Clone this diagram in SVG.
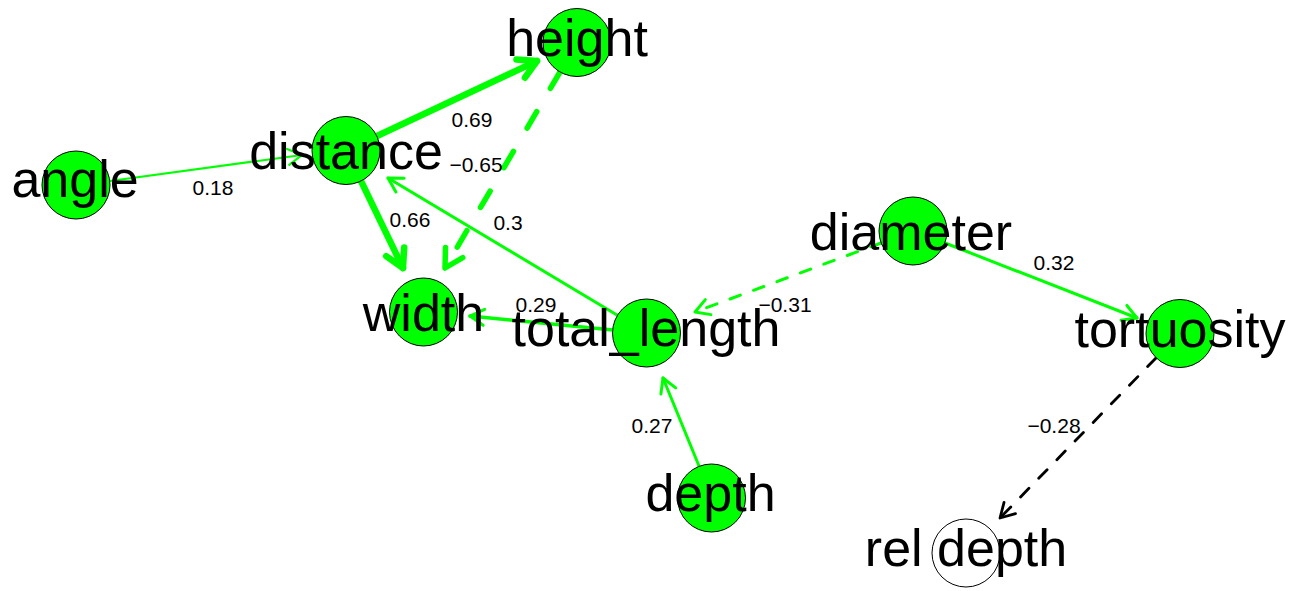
<svg xmlns="http://www.w3.org/2000/svg" width="1304" height="591" viewBox="0 0 1304 591">
<style>
.node{fill:#00ff00;stroke:#000;stroke-width:1}
.white{fill:#fff}
.nl{font-family:"Liberation Sans",Arial,sans-serif;font-size:52px;fill:#000;text-anchor:middle}
.el{font-family:"Liberation Sans",Arial,sans-serif;font-size:21px;fill:#000;text-anchor:middle}
.e{fill:none;stroke:#00ff00;stroke-linecap:round;stroke-linejoin:round}
.k{stroke:#000}
</style>
<defs>
<marker id="aG6" markerUnits="userSpaceOnUse" markerWidth="60" markerHeight="60" refX="0" refY="0" orient="auto" overflow="visible">
<path d="M-18,-10 L0,0 L-18,10" fill="none" stroke="#00ff00" stroke-width="6.5" stroke-linecap="round" stroke-linejoin="round"/>
</marker>
<marker id="aG5" markerUnits="userSpaceOnUse" markerWidth="60" markerHeight="60" refX="0" refY="0" orient="auto" overflow="visible">
<path d="M-18,-10 L0,0 L-18,10" fill="none" stroke="#00ff00" stroke-width="5.5" stroke-linecap="round" stroke-linejoin="round"/>
</marker>
<marker id="aG3" markerUnits="userSpaceOnUse" markerWidth="40" markerHeight="40" refX="0" refY="0" orient="auto" overflow="visible">
<path d="M-14,-8 L0,0 L-14,8" fill="none" stroke="#00ff00" stroke-width="3" stroke-linecap="round" stroke-linejoin="round"/>
</marker>
<marker id="aG2" markerUnits="userSpaceOnUse" markerWidth="40" markerHeight="40" refX="0" refY="0" orient="auto" overflow="visible">
<path d="M-14,-8 L0,0 L-14,8" fill="none" stroke="#00ff00" stroke-width="2.2" stroke-linecap="round" stroke-linejoin="round"/>
</marker>
<marker id="aK3" markerUnits="userSpaceOnUse" markerWidth="40" markerHeight="40" refX="0" refY="0" orient="auto" overflow="visible">
<path d="M-14,-8 L0,0 L-14,8" fill="none" stroke="#000" stroke-width="2.8" stroke-linecap="round" stroke-linejoin="round"/>
</marker>
</defs>
<g id="connectors">
<line class="e" x1="377" y1="136" x2="537" y2="61" stroke-width="6.5" marker-end="url(#aG6)"/>
<line class="e" x1="560" y1="72" x2="445" y2="268" stroke-width="5.5" stroke-dasharray="19 27" marker-end="url(#aG5)"/>
<line class="e" x1="110" y1="181" x2="302" y2="155" stroke-width="2.2" marker-end="url(#aG2)"/>
<line class="e" x1="361" y1="181" x2="403" y2="268" stroke-width="6.5" marker-end="url(#aG6)"/>
<line class="e" x1="617" y1="315" x2="388" y2="178" stroke-width="3" marker-end="url(#aG3)"/>
<line class="e" x1="613" y1="330" x2="470" y2="316" stroke-width="3.5" marker-end="url(#aG3)"/>
<line class="e" x1="881" y1="243" x2="695" y2="312" stroke-width="3" stroke-dasharray="11 14" marker-end="url(#aG3)"/>
<line class="e" x1="945" y1="243" x2="1137" y2="318" stroke-width="3" marker-end="url(#aG3)"/>
<line class="e" x1="699" y1="466" x2="663" y2="378" stroke-width="3" marker-end="url(#aG3)"/>
<line class="e k" x1="1156" y1="358" x2="1000" y2="518" stroke-width="2.8" stroke-dasharray="12 14" marker-end="url(#aK3)"/>
<text class="el" x="472" y="127">0.69</text>
<text class="el" x="476" y="172">−0.65</text>
<text class="el" x="213" y="194.5">0.18</text>
<text class="el" x="410" y="227">0.66</text>
<text class="el" x="508" y="230">0.3</text>
<text class="el" x="536" y="312">0.29</text>
<text class="el" x="785" y="312">−0.31</text>
<text class="el" x="1054" y="270">0.32</text>
<text class="el" x="652" y="432.5">0.27</text>
<text class="el" x="1054" y="433">−0.28</text>
</g>
<g id="node-height"><circle class="node" cx="577" cy="42.5" r="34"/><text class="nl" x="577" y="56">height</text></g>
<g id="node-distance"><circle class="node" cx="346" cy="150.5" r="34"/><text class="nl" x="346" y="169">distance</text></g>
<g id="node-angle"><circle class="node" cx="76" cy="185" r="34"/><text class="nl" x="75" y="197">angle</text></g>
<g id="node-width"><circle class="node" cx="423.5" cy="312" r="34"/><text class="nl" x="423.5" y="330.5">width</text></g>
<g id="node-total_length"><circle class="node" cx="646.5" cy="333" r="34"/><text class="nl" x="646" y="346">total_length</text></g>
<g id="node-diameter"><circle class="node" cx="913" cy="231" r="34"/><text class="nl" x="911" y="249.5">diameter</text></g>
<g id="node-tortuosity"><circle class="node" cx="1180" cy="333.5" r="34"/><text class="nl" x="1180" y="347">tortuosity</text></g>
<g id="node-depth"><circle class="node" cx="711.5" cy="498" r="34"/><text class="nl" x="710.5" y="511">depth</text></g>
<g id="node-rel_depth"><circle class="node white" cx="966" cy="553" r="34"/><text class="nl" x="966" y="566">rel depth</text></g>
</svg>
